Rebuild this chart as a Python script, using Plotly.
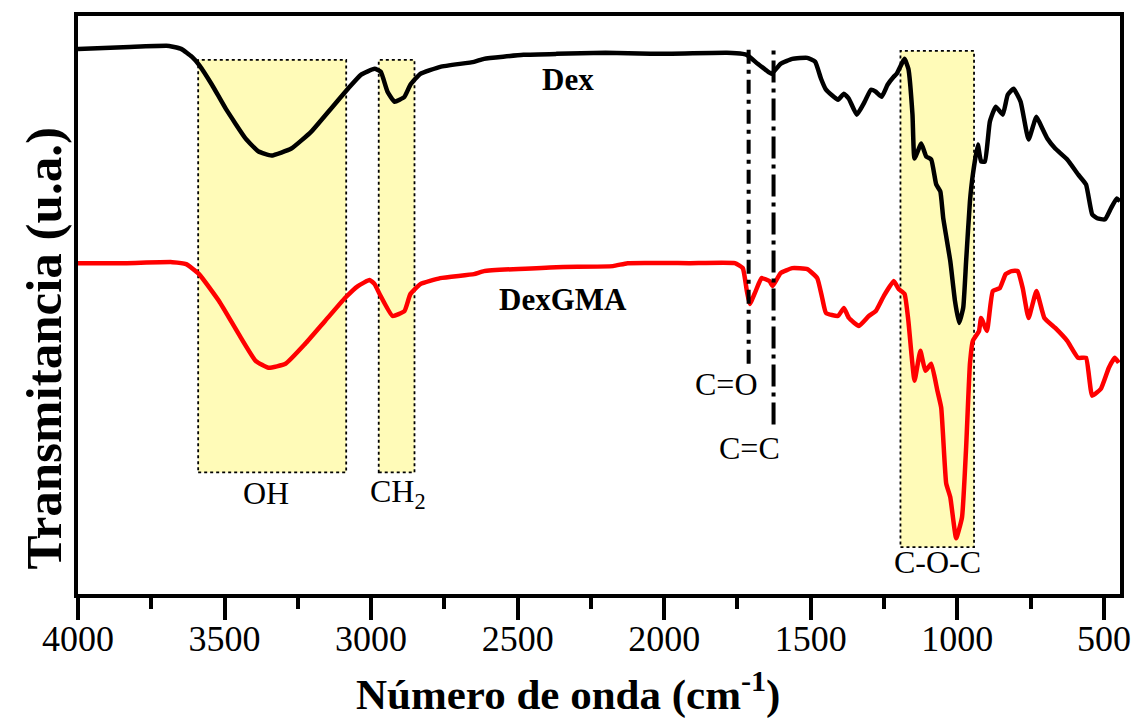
import plotly.graph_objects as go

# ---- data (wavenumber cm^-1, transmittance a.u.) ----
dex_wn = [4000, 3824, 3689, 3648, 3611, 3587, 3543, 3496, 3428, 3384, 3340, 3272, 3204, 3137,
          3079, 3035, 2988, 2967, 2944, 2920, 2886, 2866, 2832, 2764, 2649, 2615, 2480, 2368,
          2200, 2047, 1786, 1732, 1718, 1681, 1654, 1634, 1603, 1563, 1512, 1485, 1465, 1448,
          1407, 1387, 1370, 1343, 1316, 1295, 1278, 1258, 1238, 1217, 1207, 1190, 1180, 1167,
          1153, 1146, 1123, 1106, 1089, 1072, 1058, 1048, 1024, 1008, 994, 980, 970, 957, 947,
          930, 919, 906, 889, 869, 845, 828, 808, 784, 757, 730, 710, 693, 666, 625, 588, 561,
          540, 523, 496, 476, 456, 445]
dex_t = [547, 549, 550, 547, 539, 531, 511, 487, 457, 444, 440, 447, 464, 487,
         507, 521, 527, 524, 504, 494, 499, 511, 522, 529, 534, 537, 541, 542,
         543, 542, 543, 542, 541, 532, 526, 522, 532, 537, 538, 534, 517, 506,
         496, 502, 497, 481, 494, 506, 504, 499, 511, 519, 522, 532, 537, 527,
         481, 437, 452, 439, 436, 411, 404, 377, 334, 294, 272, 287, 334, 394, 421,
         451, 434, 434, 474, 489, 481, 501, 507, 494, 456, 479, 467, 457, 447, 436, 421, 411,
         381, 377, 376, 387, 397, 394]

gma_wn = [4000, 3834, 3678, 3631, 3587, 3519, 3452, 3394, 3350, 3292, 3225, 3157, 3089, 3045,
          3005, 2988, 2971, 2927, 2886, 2866, 2832, 2764, 2649, 2615, 2368, 2175, 2125, 1915,
          1759, 1732, 1718, 1708, 1688, 1668, 1641, 1630, 1603, 1563, 1512, 1478, 1461, 1448,
          1407, 1387, 1370, 1336, 1302, 1278, 1251, 1217, 1200, 1180, 1167, 1146, 1126, 1109,
          1089, 1068, 1055, 1038, 1024, 1004, 984, 970, 957, 947, 926, 919, 899, 879, 855, 835,
          815, 794, 777, 757, 730, 703, 666, 625, 588, 561, 540, 510, 483, 463, 449]
gma_t = [332, 332, 333, 331, 321, 294, 261, 234, 227, 231, 251, 274, 297, 309,
         315, 311, 301, 279, 284, 301, 311, 317, 321, 324, 328, 329, 332, 332,
         332, 327, 304, 291, 304, 317, 314, 309, 322, 327, 326, 317, 297, 282,
         279, 287, 277, 269, 279, 284, 299, 314, 306, 301, 274, 214, 244, 224,
         231, 204, 187, 111, 97, 56, 77, 147, 231, 254, 264, 277, 264, 304, 307, 321,
         324, 324, 307, 277, 304, 277, 267, 254, 237, 237, 199, 206, 227, 237, 232]

# shaded bands
band_names = ["OH", "CH<sub>2</sub>", "C-O-C"]
band_wn0 = [3590, 2974, 1194]
band_wn1 = [3085, 2852, 943]
band_t0 = [122, 122, 47]
band_t1 = [536, 536, 545]
band_label_wn = [3360, 2907, 1068]
band_label_t = [101, 101, 32]

# marker lines
mark_names = ["C=O", "C=C"]
mark_wn = [1712, 1627]
mark_top = [549, 549]
mark_bot = [231, 170]
mark_label_wn = [1789, 1708]
mark_label_t = [211, 147]
mark_dash = ["14px,6px,4px,6px", "22px,6px,4px,6px"]

series_names = ["Dex", "DexGMA"]
series_label_wn = [2328, 2345]
series_label_t = [516, 296]

FONT = "Liberation Serif, Times New Roman, Tinos, serif"

fig = go.Figure()
fig.add_trace(go.Scatter(x=dex_wn, y=dex_t, mode="lines", name="Dex",
                         line=dict(color="black", width=4.5, shape="spline", smoothing=0.4)))
fig.add_trace(go.Scatter(x=gma_wn, y=gma_t, mode="lines", name="DexGMA",
                         line=dict(color="#ff0000", width=4.5, shape="spline", smoothing=0.4)))

for i in range(len(band_names)):
    fig.add_shape(type="rect", xref="x", yref="y", x0=band_wn0[i], x1=band_wn1[i],
                  y0=band_t0[i], y1=band_t1[i], fillcolor="#fffbb8", layer="below",
                  line=dict(color="black", width=1.8, dash="3px,3px"))
    fig.add_annotation(x=band_label_wn[i], y=band_label_t[i], text=band_names[i], showarrow=False,
                       font=dict(family=FONT, size=32, color="black"), xanchor="center", yanchor="middle")

for i in range(len(mark_names)):
    fig.add_shape(type="line", xref="x", yref="y", x0=mark_wn[i], x1=mark_wn[i],
                  y0=mark_bot[i], y1=mark_top[i], layer="above",
                  line=dict(color="black", width=4, dash=mark_dash[i]))
    fig.add_annotation(x=mark_label_wn[i], y=mark_label_t[i], text=mark_names[i], showarrow=False,
                       font=dict(family=FONT, size=32, color="black"), xanchor="center", yanchor="middle")

for i in range(len(series_names)):
    fig.add_annotation(x=series_label_wn[i], y=series_label_t[i], text="<b>%s</b>" % series_names[i],
                       showarrow=False, font=dict(family=FONT, size=31, color="black"),
                       xanchor="center", yanchor="middle")

# axis titles
fig.add_annotation(xref="paper", yref="paper", x=0.47, y=-0.168,
                   text="<b>Número de onda (cm<sup>-1</sup>)</b>", showarrow=False,
                   font=dict(family=FONT, size=43, color="black"), xanchor="center", yanchor="middle")
fig.add_annotation(xref="paper", yref="paper", x=-0.033, y=0.424,
                   text="<b>Transmitancia (u.a.)</b>", showarrow=False, textangle=-90,
                   font=dict(family=FONT, size=51, color="black"), xanchor="center", yanchor="middle")

fig.update_layout(
    width=1143, height=721,
    margin=dict(l=78, r=15, t=14, b=127),
    paper_bgcolor="white", plot_bgcolor="white",
    showlegend=False,
    font=dict(family=FONT, color="black"),
)
fig.update_xaxes(range=[4000, 445], dtick=500, tick0=0, showgrid=False, zeroline=False,
                 ticks="outside", ticklen=22, tickwidth=4, tickcolor="black",
                 minor=dict(ticks="outside", ticklen=11, tickwidth=4, tickcolor="black", dtick=250, showgrid=False),
                 showline=True, linewidth=4, linecolor="black", mirror=True,
                 ticklabelstandoff=-12,
                 tickfont=dict(family=FONT, size=36, color="black"))
fig.update_yaxes(range=[0, 580], showgrid=False, zeroline=False, showticklabels=False, ticks="",
                 showline=True, linewidth=4, linecolor="black", mirror=True)

fig.write_html("out.html")
